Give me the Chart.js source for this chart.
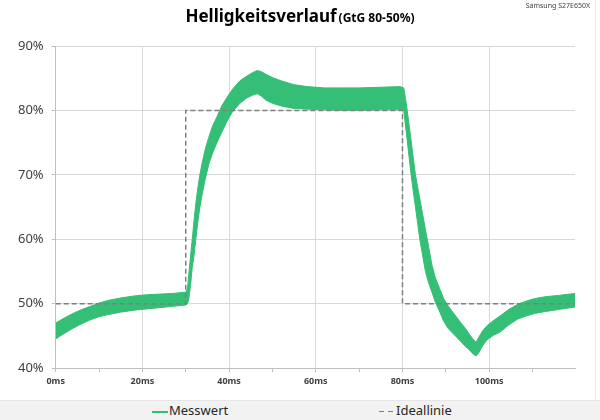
<!DOCTYPE html>
<html>
<head>
<meta charset="utf-8">
<script src="https://cdn.jsdelivr.net/npm/chart.js@4"></script>
<style>
    body { margin: 0; background: #fff; }
    .wrap { position: relative; width: 600px; height: 420px; font-family: "Noto Sans", sans-serif; }
    canvas { position: absolute; left: 0; top: 0; }
    .title { position: absolute; top: 4px; left: 0; width: 600px; text-align: center; color: #000; font-weight: bold; font-size: 17px; }
    .title small { font-size: 12px; font-weight: bold; margin-left: 2px; }
    .brand { position: absolute; top: 1px; right: 10px; font-size: 7px; color: #404040; }
    .frame { position: absolute; left: 595px; top: 0; width: 1px; height: 400px; background: #e6e6e6; }
    .legend { position: absolute; left: 0; top: 400px; width: 600px; height: 20px; background: #f2f2f2; border-top: 1px solid #e6e6e6; box-sizing: border-box; font-size: 13px; color: #262626; }
    .item { position: absolute; top: 0; height: 19px; line-height: 19px; }
    .item i { display: inline-block; width: 16px; height: 2px; vertical-align: middle; margin-right: 1px; }
    .solid { background: #35bf76; }
    .dash { background: repeating-linear-gradient(to right, #7f7f7f 0 5px, rgba(0,0,0,0) 5px 9px); height: 1.5px !important; }
</style>
</head>
<body>
<div class="wrap">
    <canvas id="myChart" width="600" height="420"></canvas>
    <div class="title">Helligkeitsverlauf<small>(GtG 80-50%)</small></div>
    <div class="brand">Samsung S27E650X</div>
    <div class="frame"></div>
    <div class="legend">
        <span class="item" style="left:152px"><i class="solid"></i>Messwert</span>
        <span class="item" style="left:379px"><i class="dash"></i>Ideallinie</span>
    </div>
</div>
<script>
// Messwert: the measured signal is a noisy band, kept as upper and lower edge
const times = [0, 1, 2, 4, 6, 8, 10, 12, 15, 18, 21, 24, 27, 30, 30.4,
    30.7, 31.1, 31.5, 31.9, 32.3, 32.7, 33.2, 33.8, 34.5, 35.3, 36.2, 37.2, 38.3, 39.5, 40.8,
    42.5, 44, 45.5, 46.5, 47.5, 48.5, 50, 52, 55, 58, 62, 66, 70, 75, 79.5, 80.3,
    80.7, 81.1, 81.5, 82, 82.5, 83, 83.5, 84, 84.6, 85.3, 86, 86.8, 87.6, 88.5, 89.5,
    90.5, 91.5, 92.5, 93.5, 94.5, 95.5, 96.3, 97, 97.6, 98.5, 99.5, 101, 102.5, 104.5,
    106.5, 108.5, 110.5, 113, 116, 119.8]
const upper = [47.0, 47.4, 47.8, 48.5, 49.1, 49.6, 50.1, 50.5, 50.9, 51.2, 51.4, 51.5, 51.6, 51.8, 52.3,
    54.5, 57.3, 60.0, 62.8, 65.4, 67.5, 69.8, 71.9, 74.0, 75.8, 77.6, 79.0, 80.7, 82.0, 83.3,
    84.6, 85.3, 85.9, 86.2, 86.0, 85.6, 85.1, 84.6, 84.0, 83.7, 83.5, 83.5, 83.5, 83.6, 83.7, 83.5,
    81.8, 80.0, 77.9, 75.3, 72.6, 70.0, 68.1, 66.3, 64.1, 61.5, 59.0, 56.0, 54.0, 52.5, 50.8,
    49.7, 48.8, 47.9, 47.0, 46.2, 45.2, 44.5, 44.0, 44.8, 45.8, 46.6, 47.4, 48.1, 49.1,
    49.9, 50.4, 50.8, 51.1, 51.3, 51.6]
const lower = [44.5, 45.0, 45.4, 46.2, 46.9, 47.5, 48.0, 48.3, 48.7, 49.0, 49.2, 49.4, 49.6, 49.8, 50.0,
    50.7, 52.8, 55.6, 57.4, 59.8, 62.2, 64.7, 67.0, 69.3, 71.6, 73.4, 75.0, 76.6, 78.3, 79.8,
    81.1, 81.9, 82.4, 82.6, 82.2, 81.6, 81.1, 80.7, 80.3, 80.2, 80.1, 80.0, 80.0, 80.1, 80.1, 80.0,
    77.6, 75.3, 72.9, 70.0, 67.4, 65.0, 62.5, 60.0, 57.7, 55.0, 53.3, 51.8, 50.2, 48.9, 47.3,
    46.2, 45.5, 44.8, 44.1, 43.4, 42.8, 42.2, 41.9, 42.4, 43.5, 44.4, 45.1, 45.6, 46.7,
    47.6, 48.1, 48.5, 48.8, 49.1, 49.5]

// Ideallinie: step from 50% to 80% and back
const idealTimes = [0, 30, 30, 80, 80, 119.8]
const idealValues = [50, 50, 80, 80, 50, 50]

const green = '#35bf76'
const gridGray = '#d9d9d9'
const axisGray = '#bfbfbf'

const toPoints = (xs, ys) => xs.map((x, i) => ({ x: x, y: ys[i] }))

const chart = document.getElementById('myChart').getContext('2d')

new Chart(chart, {
    type: 'line',
    data: {
        datasets: [{
            label: 'Ideallinie',
            data: toPoints(idealTimes, idealValues),
            borderColor: '#7f7f7f',
            borderWidth: 1.5,
            borderDash: [5, 3],
            pointRadius: 0,
            fill: false,
            order: 0
        }, {
            label: 'Messwert',
            data: toPoints(times, upper),
            borderColor: green,
            backgroundColor: green,
            borderWidth: 1,
            pointRadius: 0,
            fill: '+1',
            order: 1
        }, {
            label: 'Messwert unten',
            data: toPoints(times, lower),
            borderColor: green,
            borderWidth: 1,
            pointRadius: 0,
            fill: false,
            order: 1
        }]
    },
    options: {
        responsive: false,
        animation: false,
        devicePixelRatio: 1,
        layout: {
            padding: { top: 46, left: 10, right: 25, bottom: 29 }
        },
        plugins: {
            legend: { display: false },
            tooltip: { enabled: false }
        },
        scales: {
            x: {
                type: 'linear',
                min: 0,
                max: 119.8,
                border: { color: axisGray },
                grid: {
                    color: (c) => c.tick && c.tick.value % 20 === 0 ? gridGray : 'rgba(0,0,0,0)',
                    tickColor: axisGray,
                    tickLength: 4
                },
                ticks: {
                    stepSize: 10,
                    includeBounds: false,
                    autoSkip: false,
                    maxRotation: 0,
                    padding: 4,
                    color: '#404040',
                    font: { family: 'Noto Sans', size: 9, weight: 'bold' },
                    callback: (v) => v % 20 === 0 ? v + 'ms' : ''
                }
            },
            y: {
                min: 40,
                max: 90,
                border: { color: axisGray },
                grid: {
                    color: gridGray,
                    tickColor: axisGray,
                    tickLength: 4
                },
                ticks: {
                    stepSize: 10,
                    padding: 8,
                    color: '#404040',
                    font: { family: 'Noto Sans', size: 13 },
                    callback: (v) => v + '%'
                }
            }
        }
    }
})
</script>
</body>
</html>
